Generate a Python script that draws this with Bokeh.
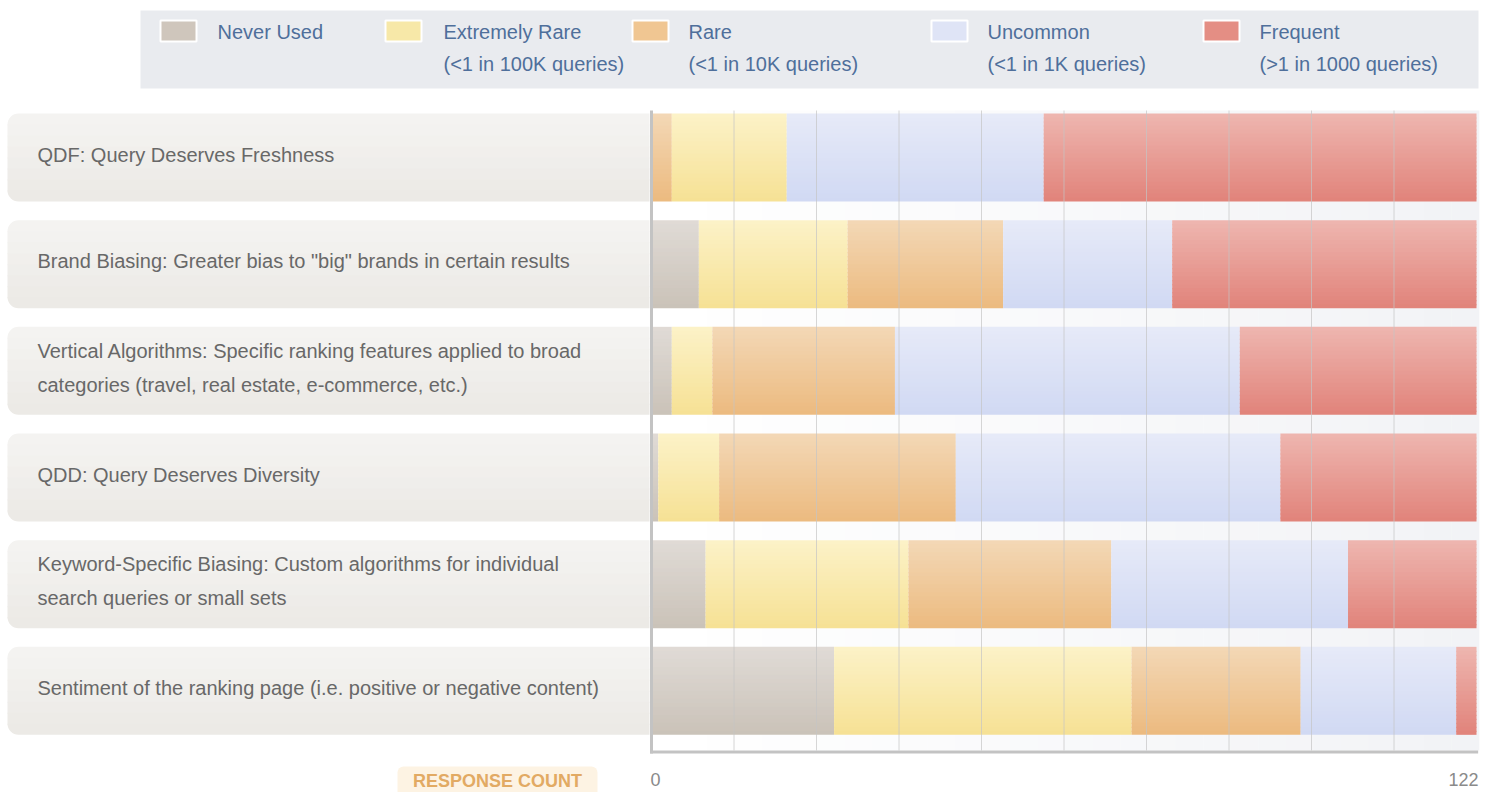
from bokeh.plotting import figure
from bokeh.models import Range1d
from bokeh.embed import file_html
from bokeh.resources import INLINE
from bokeh.core.properties import value

# ---------------- data ----------------
questions = [
    "QDF: Query Deserves Freshness",
    'Brand Biasing: Greater bias to "big" brands in certain results',
    "Vertical Algorithms: Specific ranking features applied to broad\ncategories (travel, real estate, e-commerce, etc.)",
    "QDD: Query Deserves Diversity",
    "Keyword-Specific Biasing: Custom algorithms for individual\nsearch queries or small sets",
    "Sentiment of the ranking page (i.e. positive or negative content)",
]
categories = ["Never Used", "Extremely Rare", "Rare", "Uncommon", "Frequent"]
category_notes = ["", "(<1 in 100K queries)", "(<1 in 10K queries)",
                  "(<1 in 1K queries)", "(>1 in 1000 queries)"]
never_used     = [0, 7, 3, 1, 8, 27]
extremely_rare = [17, 22, 6, 9, 30, 44]
rare           = [3, 23, 27, 35, 30, 25]
uncommon       = [38, 25, 51, 48, 35, 23]
frequent       = [64, 45, 35, 29, 19, 3]
axis_ticks = [0, 122]
axis_max = 122

series = {"Never Used": never_used, "Extremely Rare": extremely_rare, "Rare": rare,
          "Uncommon": uncommon, "Frequent": frequent}
# the reference draws the QDF row with its Rare segment first
row_order = {0: ["Rare", "Extremely Rare", "Never Used", "Uncommon", "Frequent"]}

# ---------------- style ----------------
grad = {  # top colour, bottom colour
    "Never Used": ("#e0dbd6", "#cac2b8"),
    "Extremely Rare": ("#fcf2c8", "#f6e194"),
    "Rare": ("#f3d8b6", "#ecba7f"),
    "Uncommon": ("#e6eaf8", "#d1d9f3"),
    "Frequent": ("#eeb6b0", "#e1837a"),
}
swatch = {"Never Used": "#cfc6bc", "Extremely Rare": "#f7e8a8", "Rare": "#f0c692",
          "Uncommon": "#dfe4f6", "Frequent": "#e48e84"}

FONT = value("Liberation Sans")


def lerp(c1, c2, t):
    a = [int(c1[i:i + 2], 16) for i in (1, 3, 5)]
    b = [int(c2[i:i + 2], 16) for i in (1, 3, 5)]
    return "#%02x%02x%02x" % tuple(round(a[k] + (b[k] - a[k]) * t) for k in range(3))


W, H = 1490, 792
p = figure(width=W, height=H, x_range=Range1d(0, W), y_range=Range1d(H, 0),
           x_axis_type=None, y_axis_type=None, toolbar_location=None,
           output_backend="svg", min_border=0, outline_line_color=None,
           background_fill_color="white", border_fill_color="white")

PX0, PX1 = 651, 1476           # page x of 0 and of axis_max
scale = (PX1 - PX0) / axis_max
p.extra_x_ranges = {"count": Range1d(start=(0 - PX0) / scale, end=(W - PX0) / scale)}

BAND_TOP, BAND, BAR_OFF, BAR_H = 110, 640 / 6, 3, 88
PLOT_BOTTOM = BAND_TOP + 6 * BAND
n = len(questions)
bar_tops = [BAND_TOP + i * BAND + BAR_OFF for i in range(n)]

# ---- plot-area background (white -> light grey) ----
NB = 30
bl, br, bc = [], [], []
for j in range(NB):
    bl.append(axis_max * 1.003 * j / NB)
    br.append(axis_max * 1.003 * (j + 1) / NB + 0.05)
    bc.append(lerp("#ffffff", "#f2f3f6", j / (NB - 1)))
p.quad(left=bl, right=br, top=BAND_TOP, bottom=PLOT_BOTTOM, fill_color=bc,
       line_color=None, x_range_name="count")

# ---- row label panels (gradient, rounded left corners) ----
NS = 8
for i in range(n):
    top = bar_tops[i]
    hs = BAR_H / NS
    for j in range(NS):
        c = lerp("#f5f4f2", "#ebe9e5", (j + 0.5) / NS)
        t = top + j * hs
        b = t + hs + (1.0 if j < NS - 1 else 0)
        if j == 0:
            br_ = (11, 0, 0, 0)
        elif j == NS - 1:
            br_ = (0, 0, 0, 11)
        else:
            br_ = 0
        p.quad(left=7, right=649, top=t, bottom=b, fill_color=c, line_color=None,
               border_radius=br_)

p.text(x=[37] * n, y=[t + BAR_H / 2 - 3 for t in bar_tops], text=questions,
       text_font=FONT, text_font_size="20px", text_color="#686868",
       text_baseline="middle", text_align="left", text_line_height=1.55)

# ---- stacked bars with vertical gradients ----
NG = 22
L, R, T, B, C = [], [], [], [], []
for i in range(n):
    order = row_order.get(i, categories)
    left = 0
    for cat in order:
        v = series[cat][i]
        if v <= 0:
            continue
        right = left + v
        top_c, bot_c = grad[cat]
        for j in range(NG):
            t = bar_tops[i] + j * BAR_H / NG
            L.append(left)
            R.append(right)
            T.append(t)
            B.append(t + BAR_H / NG + (1.0 if j < NG - 1 else 0))
            C.append(lerp(top_c, bot_c, (j + 0.5) / NG))
        left = right
p.quad(left=L, right=R, top=T, bottom=B, fill_color=C, line_color=None,
       x_range_name="count")

# ---- grid lines (drawn over the bars) ----
grid_x = [axis_max * k / 10 for k in range(1, 10)]
p.segment(x0=grid_x, x1=grid_x, y0=BAND_TOP, y1=PLOT_BOTTOM, line_color="#c4c4c4",
          line_alpha=0.7, line_width=1, x_range_name="count")

# ---- axes ----
p.segment(x0=[0], x1=[0], y0=BAND_TOP, y1=PLOT_BOTTOM + 3, line_color="#c3c3c3",
          line_width=3, x_range_name="count")
p.segment(x0=[-0.2], x1=[axis_max * 1.002], y0=PLOT_BOTTOM + 1.5, y1=PLOT_BOTTOM + 1.5,
          line_color="#c3c3c3", line_width=3, x_range_name="count")
p.text(x=axis_ticks, y=[779, 779], text=[str(t) for t in axis_ticks],
       text_align=["left", "right"], x_offset=[-1, 2], text_baseline="middle",
       text_font=FONT, text_font_size="18px", text_color="#8a8a8a",
       x_range_name="count")

# ---- RESPONSE COUNT tag ----
p.quad(left=397, right=597, top=766, bottom=H, fill_color="#fdf3e3", line_color=None,
       border_radius=(6, 6, 0, 0))
p.text(x=[497], y=[780], text=["RESPONSE COUNT"], text_align="center",
       text_baseline="middle", text_font=FONT, text_font_style="bold",
       text_font_size="18px", text_color="#e2aa63")

# ---- legend ----
p.quad(left=140, right=1478, top=10, bottom=88, fill_color="#e9ebef", line_color=None)
sw_left = [160, 385, 632, 931, 1203]
tx_left = [217, 443, 688, 987, 1259]
p.quad(left=sw_left, right=[s + 36 for s in sw_left], top=20, bottom=41,
       fill_color=[swatch[c] for c in categories], line_color="white", line_width=2)
p.text(x=tx_left, y=[31] * 5, text=categories, text_font=FONT, text_font_size="20px",
       text_color="#4f6f9b", text_baseline="middle")
p.text(x=tx_left, y=[63] * 5, text=category_notes, text_font=FONT, text_font_size="20px",
       text_color="#4f6f9b", text_baseline="middle")

open("out.html", "w").write(file_html(p, INLINE))
